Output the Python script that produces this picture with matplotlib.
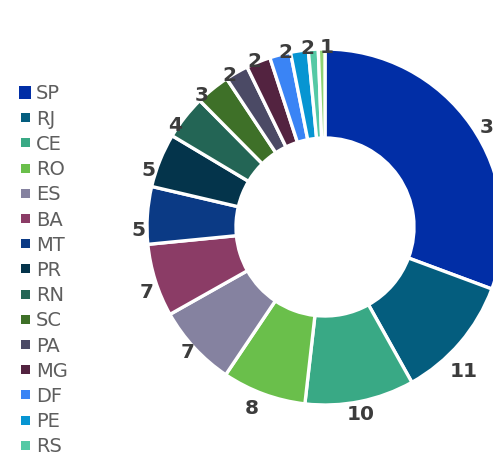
import matplotlib.pyplot as plt
from matplotlib.patches import Rectangle
import numpy as np

# share of each state (percent)
states = ["SP", "RJ", "CE", "RO", "ES", "BA", "MT", "PR", "RN", "SC",
          "PA", "MG", "DF", "PE", "RS", "GO"]
shares = [30.6, 11.2, 9.9, 7.6, 7.4, 6.6, 5.2, 4.9, 4.0, 3.1,
          2.1, 2.2, 1.9, 1.6, 0.9, 0.6]
colors = ["#012ea6", "#045d7e", "#39a985", "#6abf4b", "#8582a0", "#8b3c66",
          "#0b3a85", "#04344b", "#236555", "#3e7028", "#4b4a65", "#532340",
          "#3a84f5", "#0795d2", "#55c9a5", "#8fd274"]

# small tweaks to label placement (angle shift in degrees, distance from centre)
label_nudge = {"SP": (-2, 1.13), "RJ": (-3.7, 1.09), "CE": (0, 1.02),
               "RO": (-3, 1.05), "ES": (-2.5, 1.01), "MT": (2, 1.05),
               "PR": (1.5, 1.06), "RN": (1.5, 1.05), "SC": (2, 1.05),
               "PA": (1, 1.05), "MG": (0, 1.06), "DF": (-2.4, 1.06),
               "PE": (-2.9, 1.06), "RS": (-4.3, 1.06)}

W, H = 493, 455
cx, cy, R = 325, 227, 178  # donut centre / radius in pixels

fig = plt.figure(figsize=(W / 100, H / 100), dpi=100)
ax = fig.add_axes([0, 0, 1, 1])

wedges, _ = ax.pie(shares, colors=colors, startangle=90, counterclock=False,
                   radius=1, wedgeprops=dict(width=0.5, edgecolor="white", linewidth=2.4))
ax.set_xlim(-cx / R, (W - cx) / R)
ax.set_ylim(-(H - cy) / R, cy / R)
ax.set_aspect("equal")
ax.axis("off")

for w, name, v in zip(wedges, states, shares):
    if v < 0.75:
        continue  # too thin, label hidden
    shift, r = label_nudge.get(name, (0, 1.05))
    ang = np.radians((w.theta1 + w.theta2) / 2 + shift)
    ax.text(r * np.cos(ang), r * np.sin(ang), f"{round(v)}", ha="center", va="top",
            fontsize=14.5, fontweight="bold", color="#3c3c3c", clip_on=False)

# legend drawn by hand so it runs off the bottom like the original
x0, y0, dy = 36, 94, 25.2
for i, (name, c) in enumerate(zip(states, colors)):
    yc = y0 + i * dy
    s = 13 if i == 0 else 9
    fig.add_artist(Rectangle(((25 - s / 2) / W, 1 - (yc - 1.5 + s / 2) / H), s / W, s / H,
                             transform=fig.transFigure, color=c, lw=0))
    fig.text(x0 / W, 1 - yc / H, name, ha="left", va="center", fontsize=14, color="#5e5e5e")

fig.savefig("out.png", dpi=100)
